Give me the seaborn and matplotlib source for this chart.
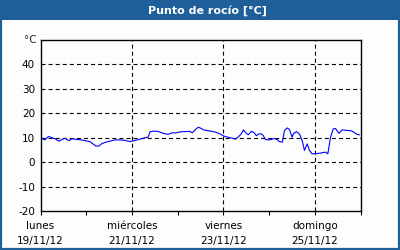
import matplotlib
matplotlib.use("Agg")
import matplotlib.pyplot as plt
import seaborn as sns
import pandas as pd
from matplotlib.patches import Rectangle

x_px = [40, 43, 45, 47, 49, 52, 55, 59, 62, 65, 67, 69, 72, 76, 80, 85, 90, 93, 96, 99,
        102, 106, 110, 115, 120, 125, 130, 135, 140, 145, 148, 150, 153, 158, 163, 168, 172,
        176, 180, 185, 190, 192, 195, 198, 200, 203, 207, 212, 216, 220, 224, 228, 232, 235,
        238, 241, 243, 246, 248, 251, 254, 256, 258, 261, 263, 265, 268, 271, 274, 277, 279,
        282, 284, 286.7, 289, 291.7, 293, 296, 299, 301.7, 304, 306.7, 309, 311.7, 316, 320,
        325, 327.3, 330, 332.7, 335, 338.3, 341.7, 346, 351, 356.7, 359]
dew_point = [10.5, 9.5, 9.1, 10.0, 10.5, 10.0, 9.6, 8.6, 9.2, 9.8, 9.3, 8.8, 9.6, 9.3, 9.2,
             8.8, 8.4, 7.5, 6.6, 6.6, 7.6, 8.2, 8.6, 9.1, 9.1, 8.9, 8.4, 8.9, 9.4, 10.0, 10.2,
             12.4, 12.7, 12.6, 11.8, 11.4, 12.0, 12.0, 12.4, 12.5, 12.6, 12.0, 13.2, 14.3, 14.0,
             13.3, 12.9, 12.6, 12.2, 11.5, 10.6, 10.2, 9.8, 9.4, 10.3, 11.6, 13.2, 11.8, 11.2,
             12.6, 12.0, 10.8, 11.5, 11.6, 10.8, 9.3, 9.1, 9.3, 9.7, 9.2, 8.4, 8.2, 12.9, 14.0,
             13.4, 10.2, 11.6, 12.5, 11.5, 8.9, 4.8, 7.5, 4.8, 3.4, 3.5, 3.7, 4.1, 3.4, 10.2,
             13.6, 13.8, 11.8, 13.2, 13.0, 12.8, 11.3, 11.2]
days = [(p - 40.7) / 45.6 for p in x_px]

y_ticks = [-20, -10, 0, 10, 20, 30, 40]
x_ticks = [0, 2, 4, 6]
x_labels = ["lunes\n19/11/12", "miércoles\n21/11/12", "viernes\n23/11/12", "domingo\n25/11/12"]
title = "Punto de rocío [°C]"
unit = "°C"

df = pd.DataFrame({"day": days, "value": dew_point})

sns.set_style("white")
plt.rcParams["font.family"] = ["DejaVu Sans"]
plt.rcParams["lines.scale_dashes"] = False

BLUE = "#1f5f99"
fig = plt.figure(figsize=(4, 2.5), dpi=100)
fig.patch.set_facecolor("#fcfdfc")
ax = fig.add_axes([40.5 / 400, 1 - 211 / 250, 320 / 400, 171 / 250])
ax.set_facecolor("#fcfdfc")

sns.lineplot(data=df, x="day", y="value", ax=ax, color="#0000ff", linewidth=0.8)

ax.set_xlim(0, 7)
ax.set_ylim(-20, 50)
ax.set_yticks(y_ticks)
ax.set_yticklabels([str(t) for t in y_ticks], fontsize=7.5)
ax.set_xticks(x_ticks)
ax.set_xticklabels(x_labels, fontsize=7.5, linespacing=1.6)
ax.set_xticks([1, 3, 5, 7], minor=True)
ax.tick_params(axis="y", length=0, pad=4, colors="black")
ax.tick_params(axis="x", which="both", direction="out", length=3, width=0.8, pad=4,
               bottom=True, colors="black")
ax.set_xlabel("")
ax.set_ylabel("")
ax.grid(False)
for y in y_ticks[1:]:
    ax.axhline(y, color="black", linewidth=0.8, linestyle=(0, (2.9, 2.2)), zorder=1)
for x in x_ticks[1:]:
    ax.axvline(x, color="black", linewidth=0.8, linestyle=(0, (2.9, 2.2)), zorder=1)
for s in ax.spines.values():
    s.set_visible(True)
    s.set_color("black")
    s.set_linewidth(1.0)

ax.text(-0.012, 50, unit, transform=ax.get_yaxis_transform(), ha="right", va="center",
        fontsize=7.5)

# title bar
fig.patches.append(Rectangle((0, 230 / 250), 1, 20 / 250, transform=fig.transFigure,
                             facecolor=BLUE, edgecolor="none", zorder=0))
fig.patches.append(Rectangle((0.002, 0.003), 0.995, 0.994, transform=fig.transFigure,
                             facecolor="none", edgecolor=BLUE, linewidth=1.6, zorder=5))
fig.text(207 / 400, 1 - 10.5 / 250, title, color="white", fontsize=8, fontweight="bold",
         ha="center", va="center")

fig.savefig("out.png", dpi=100, facecolor=fig.get_facecolor())
